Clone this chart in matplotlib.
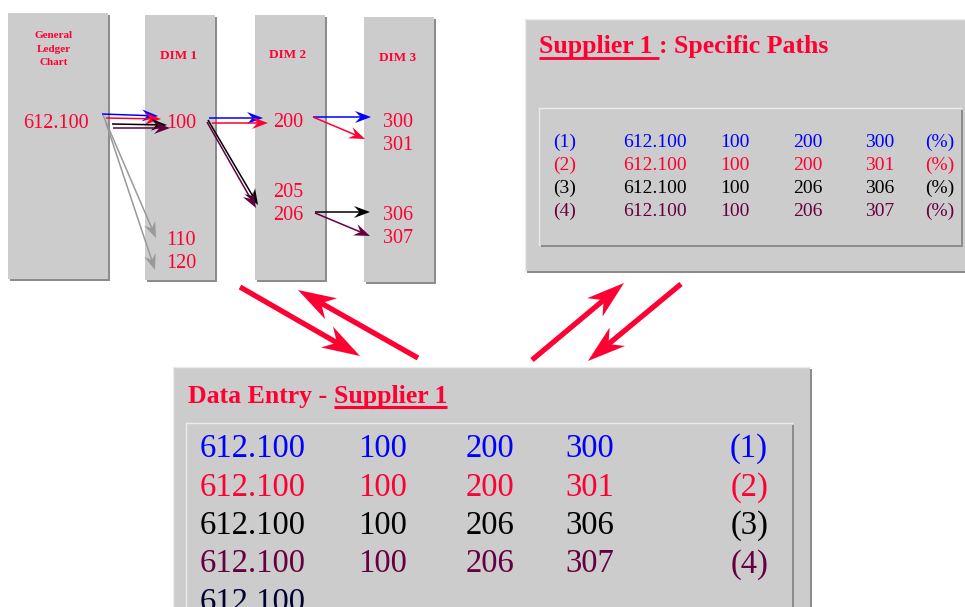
import matplotlib
matplotlib.use("Agg")
import matplotlib.pyplot as plt
from matplotlib.patches import Rectangle, Polygon
import numpy as np

# ---- content ----
gl_title = ["General", "Ledger", "Chart"]
dim_titles = ["DIM 1", "DIM 2", "DIM 3"]
gl_account = "612.100"
dim1_codes = ["100", "110", "120"]
dim2_codes = ["200", "205", "206"]
dim3_codes = ["300", "301", "306", "307"]

path_ids = ["(1)", "(2)", "(3)", "(4)"]
path_gl = ["612.100", "612.100", "612.100", "612.100"]
path_dim1 = ["100", "100", "100", "100"]
path_dim2 = ["200", "200", "206", "206"]
path_dim3 = ["300", "301", "306", "307"]
path_colors = ["#0000ff", "#ff0033", "#000000", "#660040"]
extra_entry = "612.100"
supplier = "Supplier 1"

# ---- layout (pixel space) ----
RED = "#ff0033"
GRAY = "#cccccc"
SHADOW = "#8c8c8c"
FONT = "Liberation Serif"

fig = plt.figure(figsize=(9.65, 6.07), dpi=100)
ax = fig.add_axes([0, 0, 1, 1])
ax.set_xlim(0, 965)
ax.set_ylim(607, 0)
ax.axis("off")


def box(x0, y0, x1, y1, light=False):
    ax.add_patch(Rectangle((x0 + 2, y0 + 2), x1 - x0, y1 - y0, fc=SHADOW, ec="none"))
    ax.add_patch(Rectangle((x0, y0), x1 - x0, y1 - y0, fc=GRAY, ec="none"))
    if light:
        ax.plot([x0, x1], [y0, y0], color="#ececec", lw=1)
        ax.plot([x0, x0], [y0, y1], color="#ececec", lw=1)


def arrow(p0, p1, color, lw=1.1, L=16, hw=6, notch=0.35):
    p0, p1 = np.array(p0, float), np.array(p1, float)
    d = p1 - p0
    u = d / np.hypot(*d)
    n = np.array([-u[1], u[0]])
    base = p1 - L * u
    neck = p1 - (1 - notch) * L * u
    ax.plot([p0[0], neck[0]], [p0[1], neck[1]], color=color, lw=lw,
            solid_capstyle="butt")
    ax.add_patch(Polygon([p1, base + hw * n, neck, base - hw * n],
                         closed=True, fc=color, ec="none"))


def txt(x, y, s, size, color, bold=False, ha="left"):
    return ax.text(x, y, s, fontsize=size, color=color, family=FONT,
                   fontweight="bold" if bold else "normal", ha=ha, va="baseline")


# ---- dimension columns ----
box(8, 13, 108, 279)
box(145, 15, 215, 280)
box(255, 15, 325, 280)
box(364, 17, 434, 282)

for s, y in zip(gl_title, [38, 52, 65]):
    txt(54, y, s, 8, RED, bold=True, ha="center")
for s, x, y in zip(dim_titles, [179, 288, 398], [59, 58, 61]):
    txt(x, y, s, 9.5, RED, bold=True, ha="center")

txt(23, 128, gl_account, 14.5, RED)
for s, y in zip(dim1_codes, [128, 245, 268]):
    txt(166, y, s, 14.5, RED)
for s, y in zip(dim2_codes, [127, 197, 220]):
    txt(273, y, s, 14.5, RED)
for s, y in zip(dim3_codes, [127, 150, 220, 243]):
    txt(383, y, s, 14.5, RED)

# path arrows: GL -> DIM1, DIM1 -> DIM2, DIM2 -> DIM3
seg_gl = [((102, 114), (158, 116)), ((106, 118), (161, 119)),
          ((112, 124), (167, 125)), ((113, 128), (170, 128))]
seg_d1 = [((209, 118), (263, 118)), ((212, 123), (268, 123)),
          ((208, 120), (258, 205)), ((207, 122), (256, 208))]
seg_d2 = [((313, 117), (371, 117)), ((313, 117), (365, 139)),
          ((315, 212), (370, 212)), ((315, 213), (370, 236))]
for i, c in enumerate(path_colors):
    for seg in (seg_gl[i], seg_d1[i], seg_d2[i]):
        arrow(seg[0], seg[1], c)
arrow((103, 115), (156, 238), "#999999")
arrow((106, 123), (155, 270), "#999999")

# ---- supplier specific paths panel ----
box(525, 19, 967, 271, light=True)
box(539, 108, 961, 245, light=True)

t = txt(539, 53, supplier + " ", 18.5, RED, bold=True)
r = fig.canvas.get_renderer()
bb = t.get_window_extent(r)
x_end = ax.transData.inverted().transform((bb.x1, bb.y0))[0]
txt(x_end, 53, ": Specific Paths", 18.5, RED, bold=True)
ax.plot([539, x_end], [58, 58], color=RED, lw=2, solid_capstyle="butt")

col_x = [553, 623, 720, 793, 865, 925]
for i, c in enumerate(path_colors):
    y = 147 + 23 * i
    row = [path_ids[i], path_gl[i], path_dim1[i], path_dim2[i], path_dim3[i], "(%)"]
    for x, s in zip(col_x, row):
        txt(x, y, s, 14, c)

# ---- big red arrows ----
big = dict(lw=3.8, L=38, hw=12, notch=0.3)
arrow((240, 287), (360, 356), RED, **big)
arrow((418, 358), (298, 290), RED, **big)
arrow((532, 360), (624, 283), RED, **big)
arrow((681, 284), (588, 361), RED, **big)

# ---- data entry panel ----
box(173, 367, 810, 612, light=True)
box(186, 423, 792, 612, light=True)

t = txt(188, 403, "Data Entry - ", 18.5, RED, bold=True)
bb = t.get_window_extent(r)
x0 = ax.transData.inverted().transform((bb.x1, bb.y0))[0]
t2 = txt(x0, 403, supplier, 18.5, RED, bold=True)
bb2 = t2.get_window_extent(r)
x1 = ax.transData.inverted().transform((bb2.x1, bb2.y0))[0]
ax.plot([x0, x1], [407, 407], color=RED, lw=2.2, solid_capstyle="butt")

entry_x = [200, 358, 466, 565]
for i, c in enumerate(path_colors):
    y = 457 + 38.5 * i
    row = [path_gl[i], path_dim1[i], path_dim2[i], path_dim3[i]]
    for x, s in zip(entry_x, row):
        txt(x, y, s, 23.5, c)
    txt(768, y, path_ids[i], 23.5, c, ha="right")
txt(200, 457 + 38.5 * 4, extra_entry, 23.5, "#000033")

fig.savefig("out.png", dpi=100, facecolor="white")
